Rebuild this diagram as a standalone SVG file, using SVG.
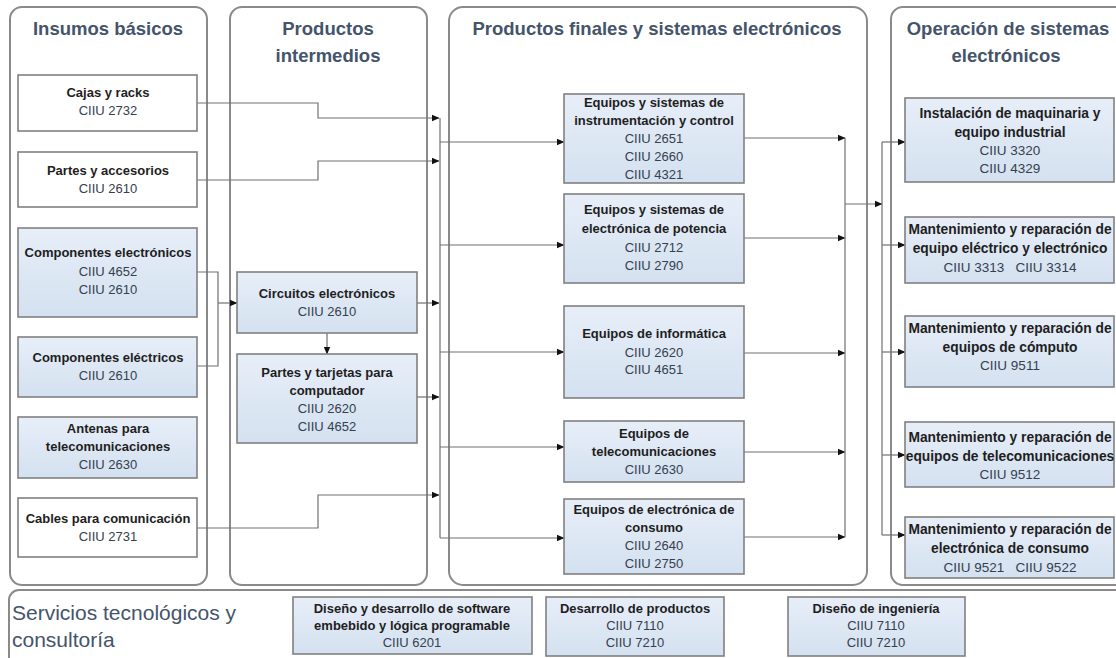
<svg xmlns="http://www.w3.org/2000/svg" width="1116" height="658" viewBox="0 0 1116 658">
  <defs>
    <linearGradient id="blueFill" x1="0" y1="0" x2="0" y2="1">
      <stop offset="0" stop-color="#e7eef8"/>
      <stop offset="1" stop-color="#d4e1f0"/>
    </linearGradient>
    <marker id="arrow" markerUnits="userSpaceOnUse" markerWidth="8" markerHeight="8" refX="7" refY="4" orient="auto">
      <path d="M0,0.8 L7.5,4 L0,7.2 Z" fill="#111"/>
    </marker>
    <style>
      .panel { fill: #ffffff; stroke: #8a8a8a; stroke-width: 2; }
      .box { stroke: #808080; stroke-width: 1.6; }
      .white { fill: #ffffff; }
      .blue { fill: url(#blueFill); }
      .title { font-family: "Liberation Sans", Arial, sans-serif; font-weight: bold; font-size: 18.5px; fill: #44546a; text-anchor: middle; }
      .svc { font-family: "Liberation Sans", Arial, sans-serif; font-size: 21px; fill: #44546a; }
      .h { font-family: "Liberation Sans", Arial, sans-serif; font-weight: bold; font-size: 13px; fill: #1e1e1e; text-anchor: middle; }
      .c { font-family: "Liberation Sans", Arial, sans-serif; font-size: 13px; fill: #34404f; text-anchor: middle; }
      .h4 { font-size: 13.8px; }
      .c4 { font-size: 13.5px; }
      .wire { fill: none; stroke: #707070; stroke-width: 1.2; }
      .arr { marker-end: url(#arrow); }
    </style>
  </defs>

  <rect width="1116" height="658" fill="#ffffff"/>

  <!-- column panels -->
  <g id="panels">
    <rect class="panel" x="10" y="7" width="197" height="578" rx="12"/>
    <rect class="panel" x="230" y="7" width="197" height="578" rx="12"/>
    <rect class="panel" x="449" y="7" width="418" height="578" rx="14"/>
    <rect class="panel" x="891" y="7" width="250" height="578" rx="12"/>
    <rect class="panel" x="9" y="590" width="1130" height="90" rx="10"/>
  </g>

  <!-- panel headings -->
  <g id="headings">
    <text class="title" x="108" y="35">Insumos básicos</text>
    <text class="title" x="328" y="35">Productos</text>
    <text class="title" x="328" y="62">intermedios</text>
    <text class="title" x="657" y="35">Productos finales y sistemas electrónicos</text>
    <text class="title" x="1008" y="35">Operación de sistemas</text>
    <text class="title" x="1006" y="62">electrónicos</text>
    <text class="svc" x="12" y="620">Servicios tecnológicos y</text>
    <text class="svc" x="12" y="647">consultoría</text>
  </g>

  <!-- connectors -->
  <g id="connectors">
    <path class="wire arr" d="M197,103 H318 V118 H439"/>
    <path class="wire arr" d="M197,180 H318 V161 H439"/>
    <path class="wire" d="M197,272 H218 V366 H197"/>
    <path class="wire arr" d="M218,303 H237"/>
    <path class="wire arr" d="M327,333 V354"/>
    <path class="wire arr" d="M417,303 H439"/>
    <path class="wire arr" d="M417,397 H439"/>
    <path class="wire arr" d="M197,528 H318 V495 H439"/>
    <path class="wire" d="M440,118 V538"/>
    <path class="wire arr" d="M440,142 H564"/>
    <path class="wire arr" d="M440,245 H564"/>
    <path class="wire arr" d="M440,352 H564"/>
    <path class="wire arr" d="M440,447 H564"/>
    <path class="wire arr" d="M440,538 H564"/>
    <path class="wire arr" d="M744,138 H845"/>
    <path class="wire arr" d="M744,238 H845"/>
    <path class="wire arr" d="M744,353 H845"/>
    <path class="wire arr" d="M744,452 H845"/>
    <path class="wire arr" d="M744,537 H845"/>
    <path class="wire" d="M845,138 V537"/>
    <path class="wire arr" d="M845,204 H882"/>
    <path class="wire" d="M882,142 V535"/>
    <path class="wire arr" d="M882,142 H905"/>
    <path class="wire arr" d="M882,245 H905"/>
    <path class="wire arr" d="M882,352 H905"/>
    <path class="wire arr" d="M882,455 H905"/>
    <path class="wire arr" d="M882,535 H905"/>
  </g>

  <!-- basic inputs -->
  <g id="cajas-racks">
    <rect class="box white" x="18" y="75" width="179" height="56"/>
    <text class="h" x="108" y="97">Cajas y racks</text>
    <text class="c" x="108" y="115">CIIU 2732</text>
  </g>
  <g id="partes-accesorios">
    <rect class="box white" x="18" y="152" width="179" height="55"/>
    <text class="h" x="108" y="175">Partes y accesorios</text>
    <text class="c" x="108" y="193">CIIU 2610</text>
  </g>
  <g id="componentes-electronicos">
    <rect class="box blue" x="18" y="228" width="179" height="89"/>
    <text class="h" x="108" y="257">Componentes electrónicos</text>
    <text class="c" x="108" y="276">CIIU 4652</text>
    <text class="c" x="108" y="294">CIIU 2610</text>
  </g>
  <g id="componentes-electricos">
    <rect class="box blue" x="18" y="337" width="179" height="60"/>
    <text class="h" x="108" y="362">Componentes eléctricos</text>
    <text class="c" x="108" y="380">CIIU 2610</text>
  </g>
  <g id="antenas">
    <rect class="box blue" x="18" y="417" width="179" height="61"/>
    <text class="h" x="108" y="433">Antenas para</text>
    <text class="h" x="108" y="451">telecomunicaciones</text>
    <text class="c" x="108" y="469">CIIU 2630</text>
  </g>
  <g id="cables">
    <rect class="box white" x="18" y="498" width="179" height="59"/>
    <text class="h" x="108" y="523">Cables para comunicación</text>
    <text class="c" x="108" y="541">CIIU 2731</text>
  </g>

  <!-- intermediate products -->
  <g id="circuitos">
    <rect class="box blue" x="237" y="272" width="180" height="61"/>
    <text class="h" x="327" y="298">Circuitos electrónicos</text>
    <text class="c" x="327" y="316">CIIU 2610</text>
  </g>
  <g id="partes-tarjetas">
    <rect class="box blue" x="237" y="354" width="180" height="89"/>
    <text class="h" x="327" y="377">Partes y tarjetas para</text>
    <text class="h" x="327" y="395">computador</text>
    <text class="c" x="327" y="413">CIIU 2620</text>
    <text class="c" x="327" y="431">CIIU 4652</text>
  </g>

  <!-- final products and systems -->
  <g id="instrumentacion">
    <rect class="box blue" x="564" y="94" width="180" height="89"/>
    <text class="h" x="654" y="107">Equipos y sistemas de</text>
    <text class="h" x="654" y="125">instrumentación y control</text>
    <text class="c" x="654" y="143">CIIU 2651</text>
    <text class="c" x="654" y="161">CIIU 2660</text>
    <text class="c" x="654" y="179">CIIU 4321</text>
  </g>
  <g id="potencia">
    <rect class="box blue" x="564" y="194" width="180" height="89"/>
    <text class="h" x="654" y="214">Equipos y sistemas de</text>
    <text class="h" x="654" y="233">electrónica de potencia</text>
    <text class="c" x="654" y="252">CIIU 2712</text>
    <text class="c" x="654" y="270">CIIU 2790</text>
  </g>
  <g id="informatica">
    <rect class="box blue" x="564" y="306" width="180" height="92"/>
    <text class="h" x="654" y="338">Equipos de informática</text>
    <text class="c" x="654" y="357">CIIU 2620</text>
    <text class="c" x="654" y="374">CIIU 4651</text>
  </g>
  <g id="telecomunicaciones">
    <rect class="box blue" x="564" y="421" width="180" height="61"/>
    <text class="h" x="654" y="438">Equipos de</text>
    <text class="h" x="654" y="456">telecomunicaciones</text>
    <text class="c" x="654" y="474">CIIU 2630</text>
  </g>
  <g id="consumo">
    <rect class="box blue" x="564" y="499" width="180" height="75"/>
    <text class="h" x="654" y="514">Equipos de electrónica de</text>
    <text class="h" x="654" y="532">consumo</text>
    <text class="c" x="654" y="550">CIIU 2640</text>
    <text class="c" x="654" y="568">CIIU 2750</text>
  </g>

  <!-- operation of electronic systems -->
  <g id="instalacion">
    <rect class="box blue" x="905" y="98" width="209" height="84"/>
    <text class="h h4" x="1010" y="118">Instalación de maquinaria y</text>
    <text class="h h4" x="1010" y="137">equipo industrial</text>
    <text class="c c4" x="1010" y="155">CIIU 3320</text>
    <text class="c c4" x="1010" y="173">CIIU 4329</text>
  </g>
  <g id="mant-electrico">
    <rect class="box blue" x="905" y="217" width="209" height="66"/>
    <text class="h h4" x="1010" y="234">Mantenimiento y reparación de</text>
    <text class="h h4" x="1010" y="253">equipo eléctrico y electrónico</text>
    <text class="c c4" x="1010" y="272" xml:space="preserve">CIIU 3313   CIIU 3314</text>
  </g>
  <g id="mant-computo">
    <rect class="box blue" x="905" y="316" width="209" height="71"/>
    <text class="h h4" x="1010" y="333">Mantenimiento y reparación de</text>
    <text class="h h4" x="1010" y="352">equipos de cómputo</text>
    <text class="c c4" x="1010" y="370">CIIU 9511</text>
  </g>
  <g id="mant-telecom">
    <rect class="box blue" x="905" y="422" width="209" height="65"/>
    <text class="h h4" x="1010" y="442">Mantenimiento y reparación de</text>
    <text class="h h4" x="1010" y="461">equipos de telecomunicaciones</text>
    <text class="c c4" x="1010" y="479">CIIU 9512</text>
  </g>
  <g id="mant-consumo">
    <rect class="box blue" x="905" y="517" width="209" height="61"/>
    <text class="h h4" x="1010" y="534">Mantenimiento y reparación de</text>
    <text class="h h4" x="1010" y="553">electrónica de consumo</text>
    <text class="c c4" x="1010" y="572" xml:space="preserve">CIIU 9521   CIIU 9522</text>
  </g>

  <!-- technology services -->
  <g id="software">
    <rect class="box blue" x="293" y="597" width="239" height="57"/>
    <text class="h" x="412" y="613">Diseño y desarrollo de software</text>
    <text class="h" x="412" y="630">embebido y lógica programable</text>
    <text class="c" x="412" y="647">CIIU 6201</text>
  </g>
  <g id="desarrollo-productos">
    <rect class="box blue" x="546" y="597" width="178" height="59"/>
    <text class="h" x="635" y="613">Desarrollo de productos</text>
    <text class="c" x="635" y="630">CIIU 7110</text>
    <text class="c" x="635" y="647">CIIU 7210</text>
  </g>
  <g id="ingenieria">
    <rect class="box blue" x="788" y="597" width="177" height="59"/>
    <text class="h" x="876" y="613">Diseño de ingeniería</text>
    <text class="c" x="876" y="630">CIIU 7110</text>
    <text class="c" x="876" y="647">CIIU 7210</text>
  </g>
</svg>
